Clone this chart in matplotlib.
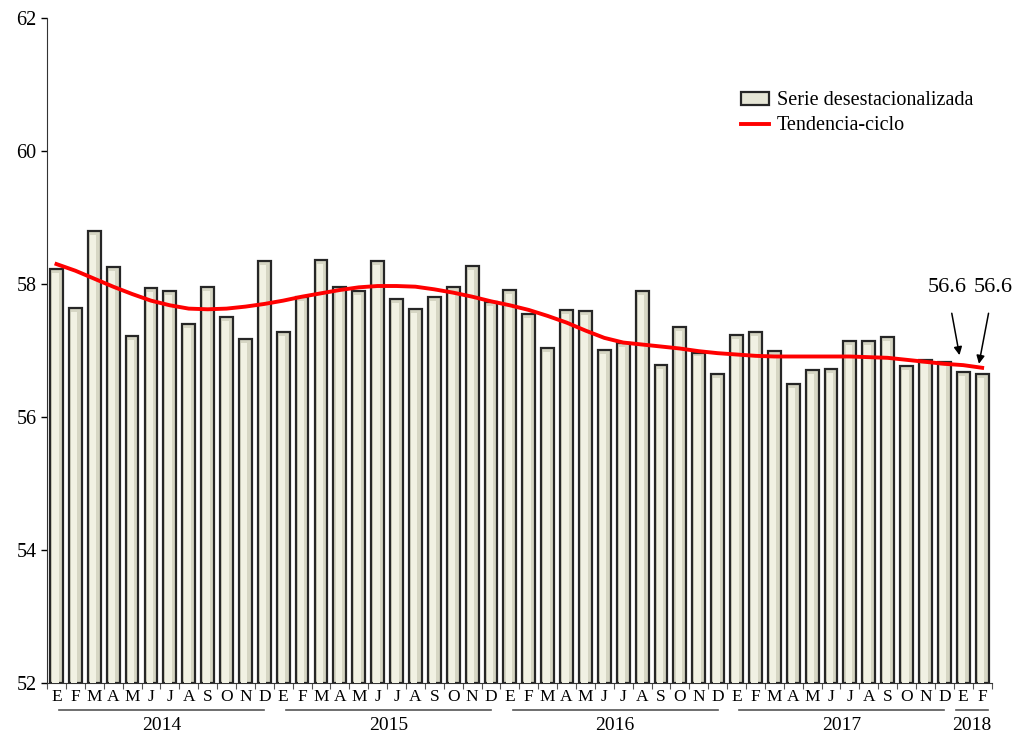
import numpy as np
import matplotlib
matplotlib.use("Agg")
import matplotlib.pyplot as plt
from matplotlib.patches import Patch
from matplotlib.lines import Line2D
import matplotlib.transforms as mtransforms

# === Data ===
MONTHS = ["E", "F", "M", "A", "M", "J", "J", "A", "S", "O", "N", "D"]
YEARS = ["2014", "2015", "2016", "2017", "2018"]
MONTHS_PER_YEAR = [12, 12, 12, 12, 2]

serie_desest = [
    58.23, 57.64, 58.79, 58.25, 57.22, 57.94, 57.90, 57.40, 57.95, 57.50, 57.18, 58.35,
    57.28, 57.80, 58.36, 57.96, 57.90, 58.34, 57.78, 57.62, 57.81, 57.96, 58.27, 57.73,
    57.91, 57.55, 57.04, 57.61, 57.59, 57.01, 57.11, 57.90, 56.78, 57.35, 56.97, 56.64,
    57.24, 57.28, 56.99, 56.50, 56.70, 56.72, 57.15, 57.15, 57.20, 56.77, 56.86, 56.82,
    56.67, 56.64,
]
tendencia = [
    58.30, 58.20, 58.08, 57.96, 57.85, 57.75, 57.68, 57.63, 57.62, 57.63, 57.66, 57.70,
    57.75, 57.81, 57.86, 57.91, 57.95, 57.97, 57.97, 57.96, 57.92, 57.87, 57.81, 57.74,
    57.68, 57.61, 57.52, 57.42, 57.30, 57.19, 57.12, 57.09, 57.06, 57.03, 56.99, 56.96,
    56.94, 56.92, 56.91, 56.91, 56.91, 56.91, 56.91, 56.90, 56.89, 56.86, 56.83, 56.80,
    56.78, 56.74,
]
ultimo_valor = ["56.6", "56.6"]

SERIF = ["Liberation Serif", "DejaVu Serif"]
plt.rcParams["font.family"] = SERIF


def main():
    n = len(serie_desest)
    x = np.arange(n)
    month_labels = [MONTHS[i % 12] for i in range(n)]

    fig = plt.figure(figsize=(10.14, 7.38), dpi=100)
    ax = fig.add_axes([0.0464, 0.0745, 0.9315, 0.9011])

    ymin = 52
    heights = np.array(serie_desest) - ymin
    # bars: cream face, dark outline, lighter highlight strip
    ax.bar(x, heights, bottom=ymin, width=0.68, color="#d6d6c4",
           edgecolor="#262626", linewidth=1.6, zorder=2)
    ax.bar(x - 0.06, heights - 0.06, bottom=ymin, width=0.34, color="#f1f1e3",
           linewidth=0, zorder=3)

    ax.plot(x, tendencia, color="#ff0000", linewidth=2.8, zorder=4)

    ax.set_ylim(52, 62)
    ax.set_xlim(-0.5, n - 0.5)
    ax.set_yticks(range(52, 63, 2))
    ax.tick_params(axis="y", labelsize=14.5, length=4, direction="out", width=1)

    ax.set_xticks(x)
    ax.set_xticklabels(month_labels, fontsize=12.5)
    ax.tick_params(axis="x", length=0, pad=4)
    ax.set_xticks(np.arange(-0.5, n, 1), minor=True)
    ax.tick_params(axis="x", which="minor", length=4, width=0.8, color="#555555")

    for side in ("top", "right"):
        ax.spines[side].set_visible(False)
    ax.spines["left"].set_color("#333333")
    ax.spines["bottom"].set_color("#333333")

    # year underlines and labels
    trans = mtransforms.blended_transform_factory(ax.transData, ax.transAxes)
    start = 0
    for year, count in zip(YEARS, MONTHS_PER_YEAR):
        end = start + count - 1
        if count < 12:
            x0, x1 = start - 0.4, end + 0.3
        else:
            x0, x1 = start + 0.15, end
        ax.plot([x0, x1], [-0.040, -0.040], transform=trans, color="#555555",
                linewidth=1.2, clip_on=False)
        ax.text((x0 + x1) / 2, -0.064, year, transform=trans, ha="center",
                va="center", fontsize=14)
        start += count

    # annotations for the last values
    ax.annotate(ultimo_valor[0], xy=(47.8, 56.93), xytext=(47.14, 57.95),
                ha="center", va="center", fontsize=16,
                arrowprops=dict(arrowstyle="-|>", color="black", lw=1.1,
                                shrinkA=10, shrinkB=0, mutation_scale=12))
    ax.annotate(ultimo_valor[1], xy=(48.83, 56.80), xytext=(49.6, 57.95),
                ha="center", va="center", fontsize=16, annotation_clip=False,
                arrowprops=dict(arrowstyle="-|>", color="black", lw=1.1,
                                shrinkA=10, shrinkB=0, mutation_scale=12))

    handles = [
        Patch(facecolor="#e6e6d6", edgecolor="#262626", linewidth=1.6,
              label="Serie desestacionalizada"),
        Line2D([0], [0], color="#ff0000", linewidth=2.8, label="Tendencia-ciclo"),
    ]
    ax.legend(handles=handles, loc="upper left", bbox_to_anchor=(0.726, 0.902),
              frameon=False, fontsize=14.5, handlelength=1.4, handleheight=0.6,
              handletextpad=0.4, labelspacing=0.3, borderaxespad=0)

    fig.savefig("out.png", dpi=100)
    plt.close(fig)


if __name__ == "__main__":
    main()
